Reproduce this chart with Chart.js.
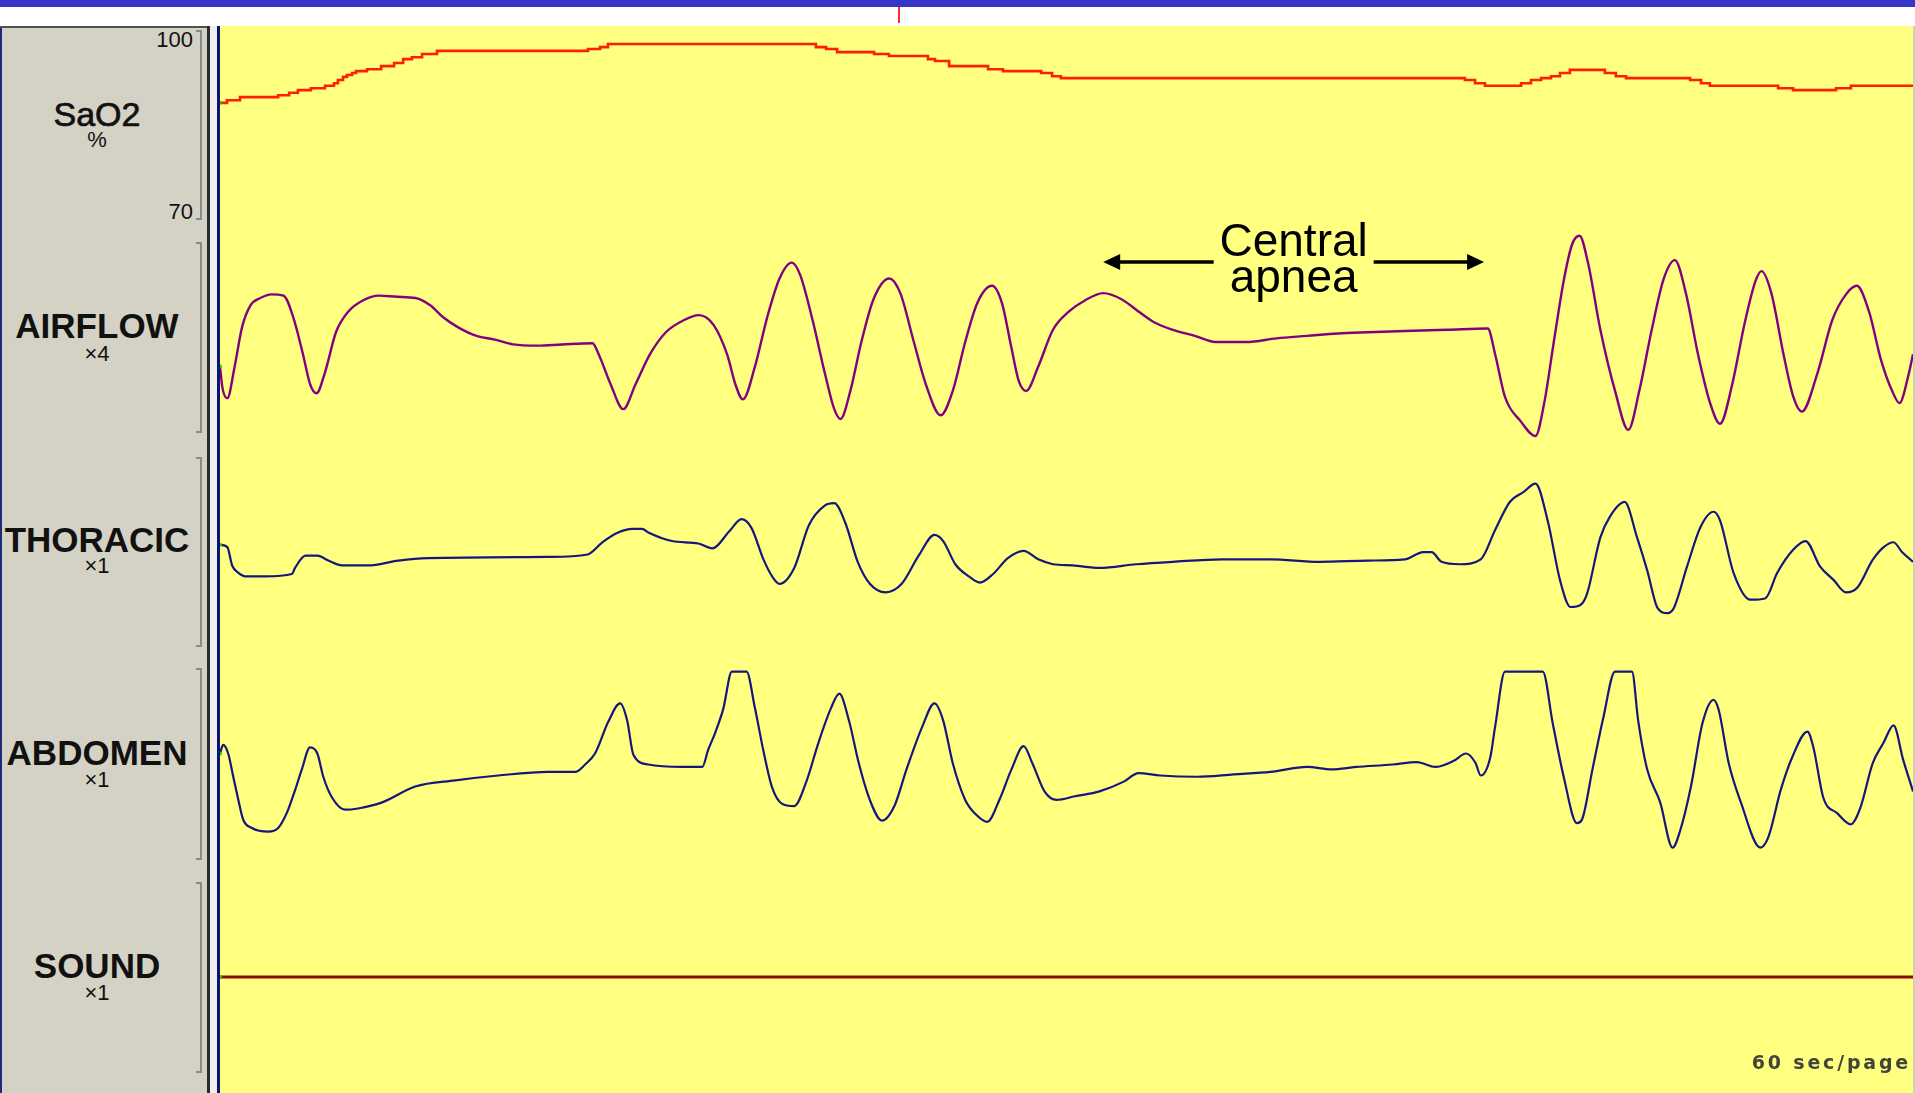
<!DOCTYPE html>
<html>
<head>
<meta charset="utf-8">
<title>Central apnea</title>
<script src="https://cdn.jsdelivr.net/npm/chart.js@4.4.1/dist/chart.umd.min.js"></script>
<style>
  html, body { margin: 0; padding: 0; background: #fff; }
  body { width: 1915px; height: 1093px; position: relative; overflow: hidden; font-family: "Liberation Sans", Arial, sans-serif; }
  .box { position: absolute; }
  .lbl { position: absolute; left: 0; width: 194px; text-align: center; color: #111; line-height: 1; white-space: nowrap; }
  .name { font-size: 35px; font-weight: bold; }
  .unit { font-size: 22px; }
  .tick { position: absolute; left: 0; width: 193px; text-align: right; font-size: 22px; line-height: 1; color: #111; }
  .bracket { position: absolute; left: 196px; width: 4px; border: 2px solid #8a8a8a; border-left: none; }
  #trace { position: absolute; left: 220px; top: 26px; }
  #note { position: absolute; width: 300px; text-align: center; font-size: 46px; line-height: 36px; color: #000; }
  #page { position: absolute; right: 4px; top: 1053px; font-family: "DejaVu Sans", sans-serif; font-weight: bold; font-size: 19px; letter-spacing: 2.8px; line-height: 1; color: #44443a; }
</style>
</head>
<body>
<div class="box" style="left:0;top:0;width:1915px;height:7px;background:#3535c8"></div>
<div class="box" style="left:898px;top:7px;width:2px;height:16px;background:#ff2a2a"></div>
<div class="box" style="left:0;top:26px;width:207px;height:1067px;background:#d4d2c4"></div>
<div class="box" style="left:0;top:26px;width:2px;height:1067px;background:#1c2c78"></div>
<div class="box" style="left:0;top:26px;width:210px;height:2px;background:#505050"></div>
<div class="box" style="left:207px;top:26px;width:3px;height:1067px;background:#2a2a2a"></div>
<div class="box" style="left:210px;top:26px;width:7px;height:1067px;background:#eeeeee"></div>
<div class="box" style="left:217px;top:26px;width:3px;height:1067px;background:#0c1470"></div>
<div class="box" style="left:220px;top:26px;width:1693px;height:1067px;background:#ffff80"></div>
<div class="box" style="left:1913px;top:26px;width:2px;height:1067px;background:#cfcfbf"></div>
<div id="labels"></div>
<canvas id="trace" width="1693" height="1067"></canvas>
<div id="note">Central<br>apnea</div>
<div id="page">60 sec/page</div>

<script>
// channel names and gains shown in the left panel
const channelNames = ['SaO2', 'AIRFLOW', 'THORACIC', 'ABDOMEN', 'SOUND'];
const channelUnits = ['%', '×4', '×1', '×1', '×1'];
const sao2Scale = [100, 70];

// event marked on the page (seconds)
const apneaStart = 31.3;
const apneaEnd = 44.8;

// SaO2 (%), stepwise
const sao2Time = [0, 0.25, 0.71, 2.06, 2.45, 2.76, 3.22, 3.72, 4.04, 4.18, 4.36, 4.50, 4.68, 4.82, 5.21, 5.71,
  6.17, 6.49, 6.80, 7.16, 7.69, 13.04, 13.47, 13.75, 21.12, 21.48, 21.87, 23.18, 23.71, 25.09, 25.34, 25.84,
  27.22, 27.75, 29.10, 29.49, 29.80, 44.12, 44.48, 44.83, 46.11, 46.46, 46.82, 47.17, 47.49, 47.84, 49.08,
  49.47, 49.83, 52.10, 52.49, 52.80, 55.22, 55.75, 57.27, 57.80, 60];
const sao2Pct = [88.5, 88.9, 89.4, 89.7, 90.1, 90.5, 90.8, 91.2, 91.6, 92.1, 92.6, 92.9, 93.2, 93.5, 93.8, 94.3,
  94.8, 95.4, 95.7, 96.2, 96.7, 97.0, 97.3, 97.8, 97.3, 97.0, 96.5, 96.2, 95.9, 95.4, 95.1, 94.3,
  93.8, 93.5, 93.2, 92.7, 92.4, 92.1, 91.6, 91.2, 91.6, 92.1, 92.4, 92.7, 93.2, 93.7, 93.2,
  92.7, 92.4, 92.1, 91.6, 91.2, 90.8, 90.5, 90.8, 91.2, 91.2];

// airflow (arbitrary units)
const airflowTime = [0, 0.09, 0.26, 0.52, 0.78, 1.08, 1.43, 1.82, 2.25, 2.60, 2.94, 3.20, 3.42, 3.72, 4.11, 4.55,
  5.06, 5.63, 6.28, 6.93, 7.45, 7.92, 8.44, 9.09, 9.74, 10.39, 11.26, 12.12, 13.20, 13.42, 13.85, 14.29,
  14.72, 15.24, 15.80, 16.45, 16.97, 17.49, 17.97, 18.27, 18.53, 18.96, 19.39, 19.83, 20.26, 20.56, 21.00,
  21.43, 21.77, 21.99, 22.34, 22.73, 23.16, 23.72, 24.11, 24.59, 25.02, 25.54, 25.97, 26.41, 26.84, 27.36,
  27.71, 28.05, 28.31, 28.57, 29.00, 29.52, 30.09, 30.65, 31.30, 31.95, 32.55, 33.12, 33.77, 34.55, 35.28,
  36.36, 37.45, 38.53, 39.61, 40.69, 41.99, 43.51, 44.93, 45.19, 45.54, 46.10, 46.62, 46.93, 47.27, 47.62,
  47.92, 48.18, 48.48, 48.92, 49.44, 49.91, 50.30, 50.74, 51.17, 51.56, 51.95, 52.38, 52.81, 53.16, 53.59,
  54.03, 54.42, 54.63, 54.98, 55.41, 55.76, 56.06, 56.62, 57.14, 57.66, 58.01, 58.44, 58.87, 59.26, 59.52,
  59.83, 60];
const airflowAmp = [-10, -28, -36, -10, 22, 40, 46, 49, 48, 30, 0, -25, -32, -15, 18, 35,
  44, 48, 47, 46, 40, 30, 22, 15, 12, 8, 7, 8, 9, 0, -25, -45,
  -25, 0, 18, 28, 32, 24, 0, -25, -37, -10, 30, 62, 75, 65, 28,
  -15, -45, -53, -30, 10, 45, 62, 50, 10, -25, -50, -30, 10, 42, 56,
  42, 5, -22, -30, -10, 20, 35, 44, 50, 45, 35, 26, 20, 15, 10,
  10, 13, 15, 17, 18, 19, 20, 21, 0, -35, -55, -67, -40, 10, 60,
  90, 97, 75, 20, -30, -62, -30, 20, 62, 77, 50, 0, -40, -57, -25,
  25, 60, 68, 50, 0, -35, -47, -15, 28, 50, 56, 35, -5, -30, -40,
  -18, 0];

// thoracic effort
const thoracicTime = [0, 0.26, 0.43, 0.65, 0.95, 1.60, 2.55, 2.66, 3.03, 3.46, 3.84, 4.33, 5.24, 6.32, 7.36,
  11.65, 13.03, 13.55, 14.11, 14.61, 14.96, 15.18, 16.02, 16.95, 17.45, 18.05, 18.48, 18.83, 19.26, 19.57,
  19.83, 20.35, 20.87, 21.43, 21.77, 22.16, 22.60, 23.03, 23.59, 24.16, 24.76, 25.32, 25.63, 26.06, 26.54,
  26.93, 27.40, 27.92, 28.48, 29.00, 29.52, 30.22, 31.17, 32.47, 33.77, 35.50, 37.23, 38.96, 40.69, 41.99,
  42.64, 42.94, 43.29, 43.94, 44.68, 45.19, 45.71, 46.19, 46.62, 47.06, 47.49, 47.86, 48.23, 48.45, 48.92,
  49.26, 49.78, 50.22, 50.58, 50.95, 51.30, 51.52, 51.99, 52.47, 52.93, 53.16, 53.64, 54.24, 54.76, 55.19,
  55.76, 56.19, 56.71, 57.19, 57.62, 58.03, 58.57, 58.96, 59.31, 59.61, 60];
const thoracicAmp = [9, 7, -8, -14, -17, -17, -15, -10, 0, 0, -4, -8, -8, -4, -2,
  -1, 1, 11, 19, 22, 22, 19, 12, 10, 6, 20, 30, 23, -3, -17,
  -23, -10, 25, 41, 43, 27, -5, -23, -30, -23, 0, 17, 12, -7, -17,
  -22, -15, -2, 4, -3, -7, -8, -10, -7, -5, -3, -3, -5, -4, -3,
  3, 3, -5, -7, -3, 21, 44, 52, 59, 28, -20, -42, -40, -31, 15,
  32, 44, 15, -12, -43, -47, -43, -9, 23.5, 36, 29, -14, -36, -35, -14,
  5, 12, -9, -20, -30, -26, -3.5, 7, 11, 3, -5];

// abdominal effort (flat tops are the clipped signal)
const abdomenTime = [0, 0.11, 0.29, 0.47, 0.65, 0.82, 1.13, 1.71, 2.06, 2.38, 2.66, 2.90, 3.19, 3.45, 3.66,
  3.97, 4.44, 4.89, 5.75, 6.92, 8.34, 9.86, 11.63, 12.59, 12.94, 13.29, 13.76, 14.18, 14.43, 14.65, 15.18,
  16.38, 17.09, 17.30, 17.55, 17.84, 18.14, 18.66, 18.96, 19.26, 19.57, 19.91, 20.35, 20.78, 21.21, 21.65,
  21.95, 22.29, 22.64, 23.03, 23.46, 23.90, 24.33, 24.89, 25.32, 25.63, 25.97, 26.41, 26.84, 27.19, 27.62,
  28.05, 28.48, 28.79, 29.22, 29.65, 30.30, 31.17, 32.03, 32.55, 33.33, 34.63, 35.93, 37.23, 38.53, 39.39,
  40.26, 41.56, 42.42, 43.07, 43.72, 44.16, 44.50, 44.68, 45.02, 45.19, 45.54, 46.88, 47.23, 47.62, 48.09,
  48.27, 48.64, 49.03, 49.44, 50.04, 50.26, 50.58, 51.04, 51.48, 51.75, 52.13, 52.54, 52.93, 53.11, 53.47,
  53.90, 54.59, 54.88, 55.31, 55.72, 56.26, 56.47, 56.82, 57.32, 57.79, 58.14, 58.57, 58.96, 59.31, 59.65, 60];
const abdomenAmp = [13, 20, 13, -6, -25, -41, -48, -51, -48, -35, -17, 0, 18, 13, -6,
  -23, -33, -32, -27, -14, -9, -5, -2, -2, 4, 13, 39, 54, 40, 12, 4,
  2, 2, 16, 30, 50, 80, 80, 50, 15, -15, -28, -30, -10, 22, 50,
  62, 40, 5, -25, -42, -30, 0, 35, 54, 40, 5, -25, -38, -43, -25,
  0, 19, 5, -18, -25, -22, -18, -10, -3, -5, -6, -4, -2, 2, 0,
  2, 4, 6, 2, 7, 13, 5, -5, 10, 35, 80, 80, 38, -6, -44,
  -41, 0, 43, 80, 80, 40, 0, -27, -64, -50, -14, 38, 57, 49, 5,
  -27, -64, -55, -17, 10, 31, 18, -23, -36, -45, -31, 5, 22, 36, 8, -18];

// sound
const soundTime = [0, 60];
const soundAmp = [0, 0];

// ---- layout of the page (pixels) ----
const PLOT_TOP = 26;
const PLOT_H = 1067;
const GAIN = 1.2213; // px per amplitude unit
const bands = [[30, 220], [242, 433], [457, 647], [668, 860], [882, 1073]];
const nameBase = [126, 338, 552, 765, 978];
const unitBase = [148, 362, 574, 788, 1001];
const zeroY = [0, 354.2, 555.7, 769.4, 977];

// y-axis min/max so that value v1 sits at page y1 and v2 at page y2
function axisRange(v1, y1, v2, y2) {
  const k = (v1 - v2) / (y2 - y1);
  const c = y1 - PLOT_TOP;
  return { min: v1 - (PLOT_H - c) * k, max: v1 + c * k };
}
function chanRange(y0) {
  return axisRange(0, y0, 100, y0 - 100 * GAIN);
}

// left panel
const labels = document.getElementById('labels');
function addDiv(cls, text, top, extra) {
  const d = document.createElement('div');
  d.className = cls;
  d.textContent = text;
  d.style.top = top + 'px';
  if (extra) Object.assign(d.style, extra);
  labels.appendChild(d);
}
channelNames.forEach((n, i) => {
  const isSat = i === 0;
  const fs = isSat ? 34 : 35;
  addDiv('lbl name', n, nameBase[i] - 0.8465 * fs,
    isSat ? { fontWeight: 'normal', fontSize: '34px', webkitTextStroke: '0.7px #111' } : null);
  addDiv('lbl unit', channelUnits[i], unitBase[i] - 0.8465 * 22);
  const b = document.createElement('div');
  b.className = 'bracket';
  b.style.top = bands[i][0] + 'px';
  b.style.height = (bands[i][1] - bands[i][0] - 4) + 'px';
  labels.appendChild(b);
});
addDiv('tick', String(sao2Scale[0]), 48 - 0.8465 * 22);
addDiv('tick', String(sao2Scale[1]), 220 - 0.8465 * 22);

const pts = (t, v) => t.map((x, i) => ({ x: x, y: v[i] }));
const firstDot = ctx => ctx.dataIndex === 0 ? 2 : 0;

// arrows either side of the annotation text
const apneaArrows = {
  id: 'apneaArrows',
  afterDatasetsDraw(chart) {
    const c = chart.ctx;
    const xs = chart.scales.x;
    const a = xs.getPixelForValue(apneaStart);
    const b = xs.getPixelForValue(apneaEnd);
    const mid = (a + b) / 2;
    const y = 236;
    c.save();
    c.strokeStyle = '#000';
    c.fillStyle = '#000';
    c.lineWidth = 3.5;
    c.beginPath();
    c.moveTo(a + 12, y); c.lineTo(mid - 80, y);
    c.moveTo(mid + 80, y); c.lineTo(b - 12, y);
    c.stroke();
    c.beginPath();
    c.moveTo(a, y); c.lineTo(a + 17, y - 8); c.lineTo(a + 17, y + 8); c.closePath();
    c.moveTo(b, y); c.lineTo(b - 17, y - 8); c.lineTo(b - 17, y + 8); c.closePath();
    c.fill();
    c.restore();
  }
};

const base = {
  pointRadius: firstDot,
  pointBackgroundColor: '#22cc22',
  pointBorderWidth: 0,
  cubicInterpolationMode: 'monotone',
  borderWidth: 2
};

const chart = new Chart(document.getElementById('trace'), {
  type: 'line',
  data: {
    datasets: [
      { ...base, label: 'SaO2', data: pts(sao2Time, sao2Pct), yAxisID: 'ySat', borderColor: '#ff1e00', borderWidth: 2.6, stepped: true },
      { ...base, label: 'AIRFLOW', data: pts(airflowTime, airflowAmp), yAxisID: 'yAir', borderColor: '#820082', borderWidth: 2.4 },
      { ...base, label: 'THORACIC', data: pts(thoracicTime, thoracicAmp), yAxisID: 'yTho', borderColor: '#16167e', borderWidth: 2.2 },
      { ...base, label: 'ABDOMEN', data: pts(abdomenTime, abdomenAmp), yAxisID: 'yAbd', borderColor: '#16167e', borderWidth: 2.2 },
      { ...base, label: 'SOUND', data: pts(soundTime, soundAmp), yAxisID: 'ySnd', borderColor: '#8e0a00', borderWidth: 3 }
    ]
  },
  options: {
    responsive: false,
    devicePixelRatio: 1,
    animation: false,
    events: [],
    layout: { padding: 0, autoPadding: false },
    plugins: { legend: { display: false }, tooltip: { enabled: false } },
    scales: {
      x: { type: 'linear', min: 0, max: 60, display: false },
      ySat: { type: 'linear', display: false, bounds: 'data', ...axisRange(sao2Scale[0], bands[0][0], sao2Scale[1], bands[0][1]) },
      yAir: { type: 'linear', display: false, bounds: 'data', ...chanRange(zeroY[1]) },
      yTho: { type: 'linear', display: false, bounds: 'data', ...chanRange(zeroY[2]) },
      yAbd: { type: 'linear', display: false, bounds: 'data', ...chanRange(zeroY[3]) },
      ySnd: { type: 'linear', display: false, bounds: 'data', ...chanRange(zeroY[4]) }
    }
  },
  plugins: [apneaArrows]
});

// place the annotation text between the arrows
const xs = chart.scales.x;
const mid = 220 + (xs.getPixelForValue(apneaStart) + xs.getPixelForValue(apneaEnd)) / 2;
const note = document.getElementById('note');
note.style.left = (mid - 150) + 'px';
note.style.top = '222px';
</script>
</body>
</html>
